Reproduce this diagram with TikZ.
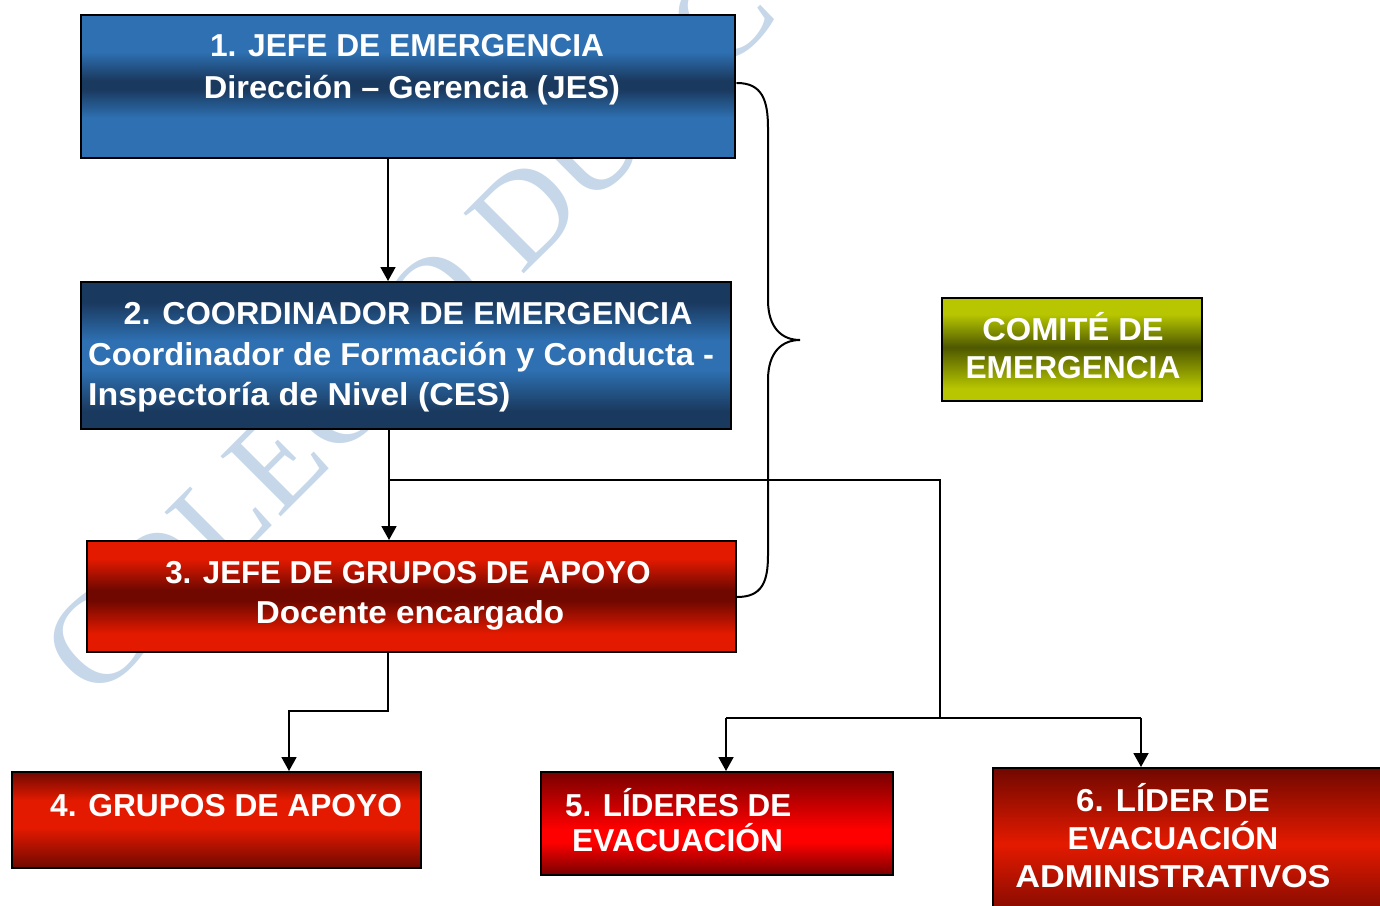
\documentclass[tikz,border=0pt]{standalone}
\usepackage{fontspec}
\usepackage{graphicx}
\setmainfont{Liberation Sans}
\newfontfamily\wmfont{Liberation Serif}
\usetikzlibrary{arrows.meta}
\definecolor{bL}{RGB}{46,112,178}
\definecolor{bD}{RGB}{26,57,94}
\definecolor{rB}{RGB}{228,26,0}
\definecolor{rD}{RGB}{112,8,0}
\definecolor{rBot}{RGB}{140,12,0}
\definecolor{r5B}{RGB}{255,0,0}
\definecolor{r5D}{RGB}{120,0,0}
\definecolor{gB}{RGB}{183,198,0}
\definecolor{gD}{RGB}{78,88,0}
\definecolor{wmc}{RGB}{197,215,233}
\pgfdeclareverticalshading{shA}{100bp}{color(0bp)=(bL); color(39bp)=(bL); color(49bp)=(bD); color(52bp)=(bD); color(62bp)=(bL); color(100bp)=(bL)}
\pgfdeclareverticalshading{shB}{100bp}{color(0bp)=(bD); color(31bp)=(bD); color(45bp)=(bL); color(55bp)=(bL); color(68bp)=(bD); color(100bp)=(bD)}
\pgfdeclareverticalshading{shC}{100bp}{color(0bp)=(rB); color(33bp)=(rB); color(48bp)=(rD); color(53bp)=(rD); color(67bp)=(rB); color(100bp)=(rB)}
\pgfdeclareverticalshading{shD}{100bp}{color(0bp)=(rD); color(25bp)=(rD); color(46bp)=(rB); color(60bp)=(rB); color(75bp)=(rD); color(100bp)=(rD)}
\pgfdeclareverticalshading{shE}{100bp}{color(0bp)=(r5D); color(25bp)=(r5D); color(41bp)=(r5B); color(47bp)=(r5B); color(75bp)=(r5D); color(100bp)=(r5D)}
\pgfdeclareverticalshading{shF}{100bp}{color(0bp)=(rD); color(25bp)=(rD); color(35bp)=(rBot); color(53bp)=(rB); color(75bp)=(rD); color(100bp)=(rD)}
\pgfdeclareverticalshading{shG}{100bp}{color(0bp)=(gB); color(31bp)=(gB); color(51bp)=(gD); color(67bp)=(gB); color(100bp)=(gB)}
\newcommand{\wx}[2]{\scalebox{#1}[1]{#2}}
\begin{document}
\begin{tikzpicture}[x=1pt,y=-1pt,
  box/.style={draw=black,line width=1.6pt,rectangle,inner sep=0pt,anchor=north west},
  lbl/.style={text=white,inner sep=0pt,font=\bfseries\fontsize{31.7pt}{38pt}\selectfont},
  conn/.style={line width=1.8pt,draw=black},
  arr/.style={conn,-{Triangle[width=15pt,length=14pt]}},
  wm/.style={text=wmc,inner sep=0pt,font=\wmfont\fontsize{130pt}{130pt}\selectfont}]
\useasboundingbox (0,0) rectangle (1380,905);
\fill[white] (0,0) rectangle (1380,905);
% watermark
\node[wm,rotate=45,anchor=base west] (wmk) at (95,703) {COLEGIO DUOC};
% boxes
\node[box,shading=shA,minimum width=654pt,minimum height=143pt] (b1) at (80,14) {};
\node[box,shading=shB,minimum width=650pt,minimum height=147pt] (b2) at (80,281) {};
\node[box,shading=shC,minimum width=649pt,minimum height=111pt] (b3) at (86,540) {};
\node[box,shading=shD,minimum width=409pt,minimum height=96pt] (b4) at (11,771) {};
\node[box,shading=shE,minimum width=352pt,minimum height=103pt] (b5) at (540,771) {};
\node[box,shading=shF,minimum width=410pt,minimum height=173pt] (b6) at (992,767) {};
\node[box,shading=shG,minimum width=260pt,minimum height=103pt] (bc) at (941,297) {};
% texts
\node[lbl,anchor=base] (t1a) at (407,56) {1. JEFE DE EMERGENCIA};
\node[lbl,anchor=base] (t1b) at (412,98) {\wx{1.027}{Dirección – Gerencia (JES)}};
\node[lbl,anchor=base] (t2a) at (408,324) {\wx{1.02}{2. COORDINADOR DE EMERGENCIA}};
\node[lbl,anchor=base west] (t2b) at (88,365) {\wx{1.03}{Coordinador de Formación y Conducta -}};
\node[lbl,anchor=base west] (t2c) at (88,405) {\wx{1.07}{Inspectoría de Nivel (CES)}};
\node[lbl,anchor=base] (t3a) at (408,583) {\wx{0.985}{3. JEFE DE GRUPOS DE APOYO}};
\node[lbl,anchor=base] (t3b) at (410,623) {\wx{1.048}{Docente encargado}};
\node[lbl,anchor=base west] (t4) at (50,816) {4. GRUPOS DE APOYO};
\node[lbl,anchor=base west] (t5a) at (565,816) {\wx{0.99}{5. LÍDERES DE}};
\node[lbl,anchor=base west] (t5b) at (572,851) {EVACUACIÓN};
\node[lbl,anchor=base] (t6a) at (1173,811) {\wx{1.04}{6. LÍDER DE}};
\node[lbl,anchor=base] (t6b) at (1173,849) {EVACUACIÓN};
\node[lbl,anchor=base] (t6c) at (1173,887) {\wx{1.08}{ADMINISTRATIVOS}};
\node[lbl,anchor=base] (tca) at (1073,340) {\wx{1.03}{COMITÉ DE}};
\node[lbl,anchor=base] (tcb) at (1073,378) {EMERGENCIA};
% helper coordinates
\coordinate (xA) at (388,0);
\coordinate (xB) at (389,0);
\coordinate (x4) at (289,0);
\coordinate (x5) at (726,0);
\coordinate (x6) at (1141,0);
\coordinate (j1) at (389,480);
\coordinate (j2) at (940,718);
\coordinate (j3) at (388,711);
% connectors
\draw[arr] (b1.south -| xA) -- (b2.north -| xA);
\draw[arr] (b2.south -| xB) -- (b3.north -| xB);
\draw[conn] (j1) -| (j2);
\draw[conn] (x5 |- j2) -- (x6 |- j2);
\draw[arr] (x5 |- j2) -- (b5.north -| x5);
\draw[arr] (x6 |- j2) -- (b6.north -| x6);
\draw[arr] (b3.south -| xA) -- (j3) -| (b4.north -| x4);
% brace
\coordinate (bt) at (737,83);
\coordinate (bm) at (800,340);
\coordinate (bb) at (737,597);
\draw[line width=2pt,line cap=round] (bt) .. controls (762,83) and (768,100) .. (768,128)
  -- (768,300) .. controls (768,328) and (782,340) .. (bm)
  .. controls (782,340) and (768,352) .. (768,380)
  -- (768,555) .. controls (768,582) and (762,597) .. (bb);
\end{tikzpicture}
\end{document}
